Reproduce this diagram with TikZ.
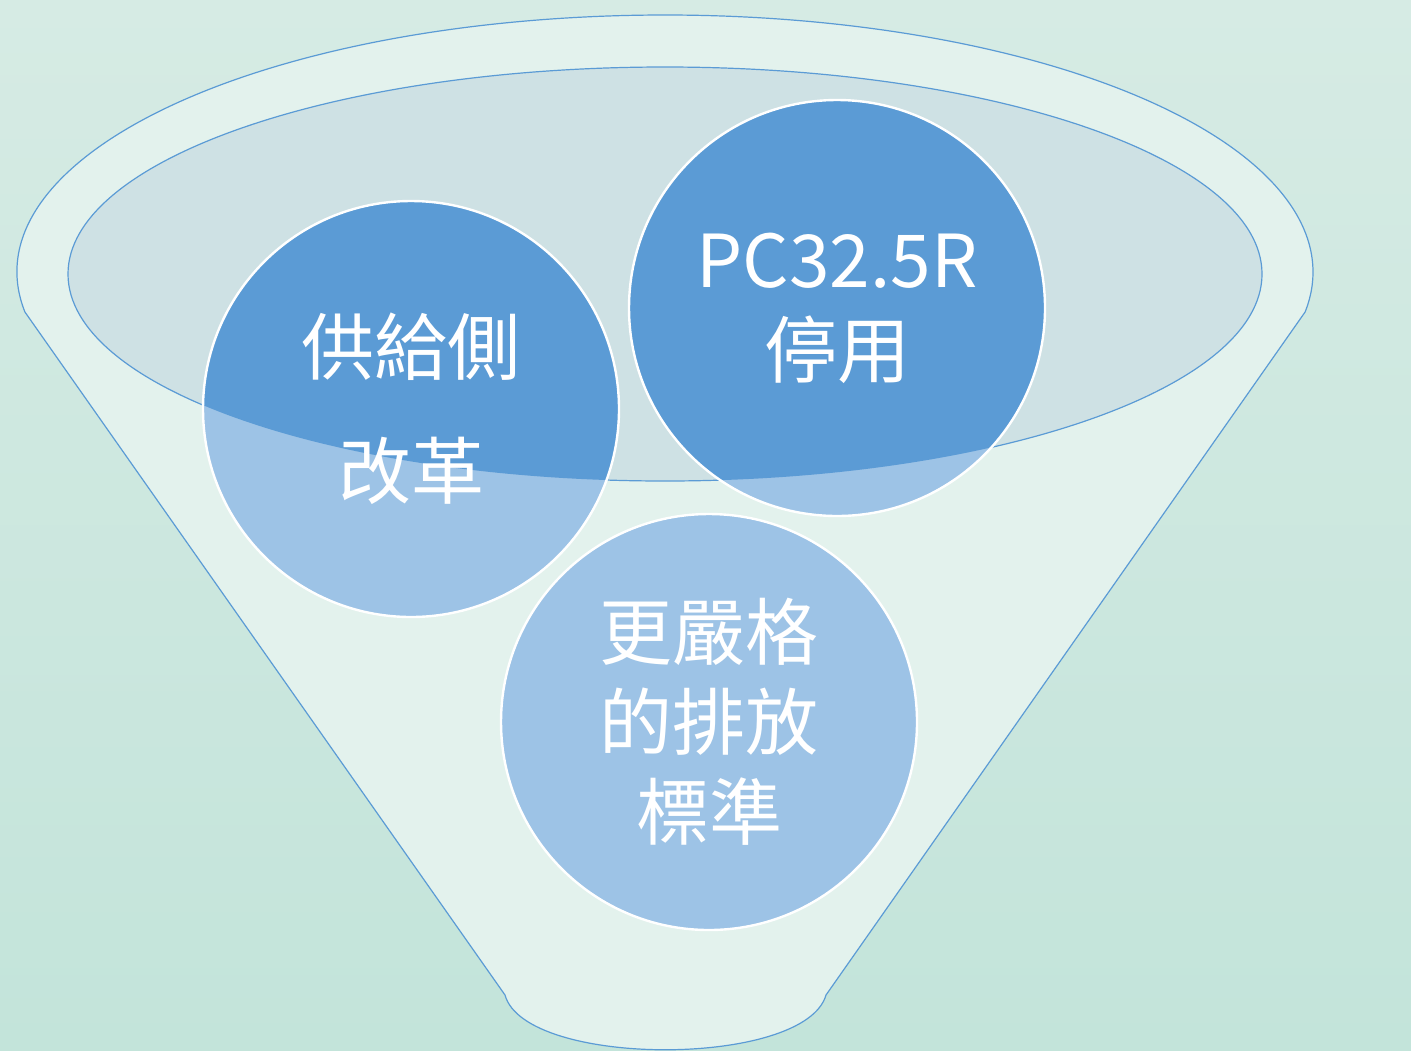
\documentclass[tikz,border=0pt]{standalone}
\usepackage{fontspec}
\newfontfamily\cjk{Noto Sans CJK TC}
\usetikzlibrary{positioning}

\definecolor{bgtop}{HTML}{D6EBE4}
\definecolor{bgbottom}{HTML}{C3E4DA}
\definecolor{funnelfill}{HTML}{E3F2ED}
\definecolor{rimfill}{HTML}{CEE1E4}
\definecolor{darkblue}{HTML}{5B9BD5}
\definecolor{lightblue}{HTML}{9DC3E6}

\tikzset{
    outline/.style={draw=darkblue, line width=0.6pt},
    bubble/.style={circle, minimum size=208pt, inner sep=0pt, draw=white,
        line width=1.2pt, text=white, align=center,
        font=\cjk\fontsize{36.5}{45}\selectfont},
}

\begin{document}
\begin{tikzpicture}[x=0.5pt,y=-0.5pt]
            \shade[top color=bgtop, bottom color=bgbottom] (0,0) rectangle (1411,1050);
            \useasboundingbox (0,0) rectangle (1411,1050);

            % funnel body
            \filldraw[outline, fill=funnelfill] (665,272) ++(171.05:648 and 257)
                arc[start angle=171.05, end angle=368.95, x radius=648, y radius=257]
                -- (826,995) .. controls (805,1068) and (525,1068) .. (505,995) -- cycle;

            % rim of the funnel
            \filldraw[outline, fill=rimfill] (665,274) ellipse[x radius=597, y radius=207];

            \foreach \p in {(411,409),(837,308),(709,722)}{
                \fill[lightblue] \p circle[radius=208];
            }
            \begin{scope}
                \clip (665,274) ellipse[x radius=597, y radius=207];
                \foreach \p in {(411,409),(837,308)}{
                    \fill[darkblue] \p circle[radius=208];
                }
            \end{scope}

            \node[bubble] (supply) at (411,409) {供給側\\[17pt]改革};
            \node[bubble] (cement) at (837,308) {PC32.5R\\停用};
            \node[bubble] (emission) at (709,722) {更嚴格\\的排放\\標準};
        \end{tikzpicture}
\end{document}
